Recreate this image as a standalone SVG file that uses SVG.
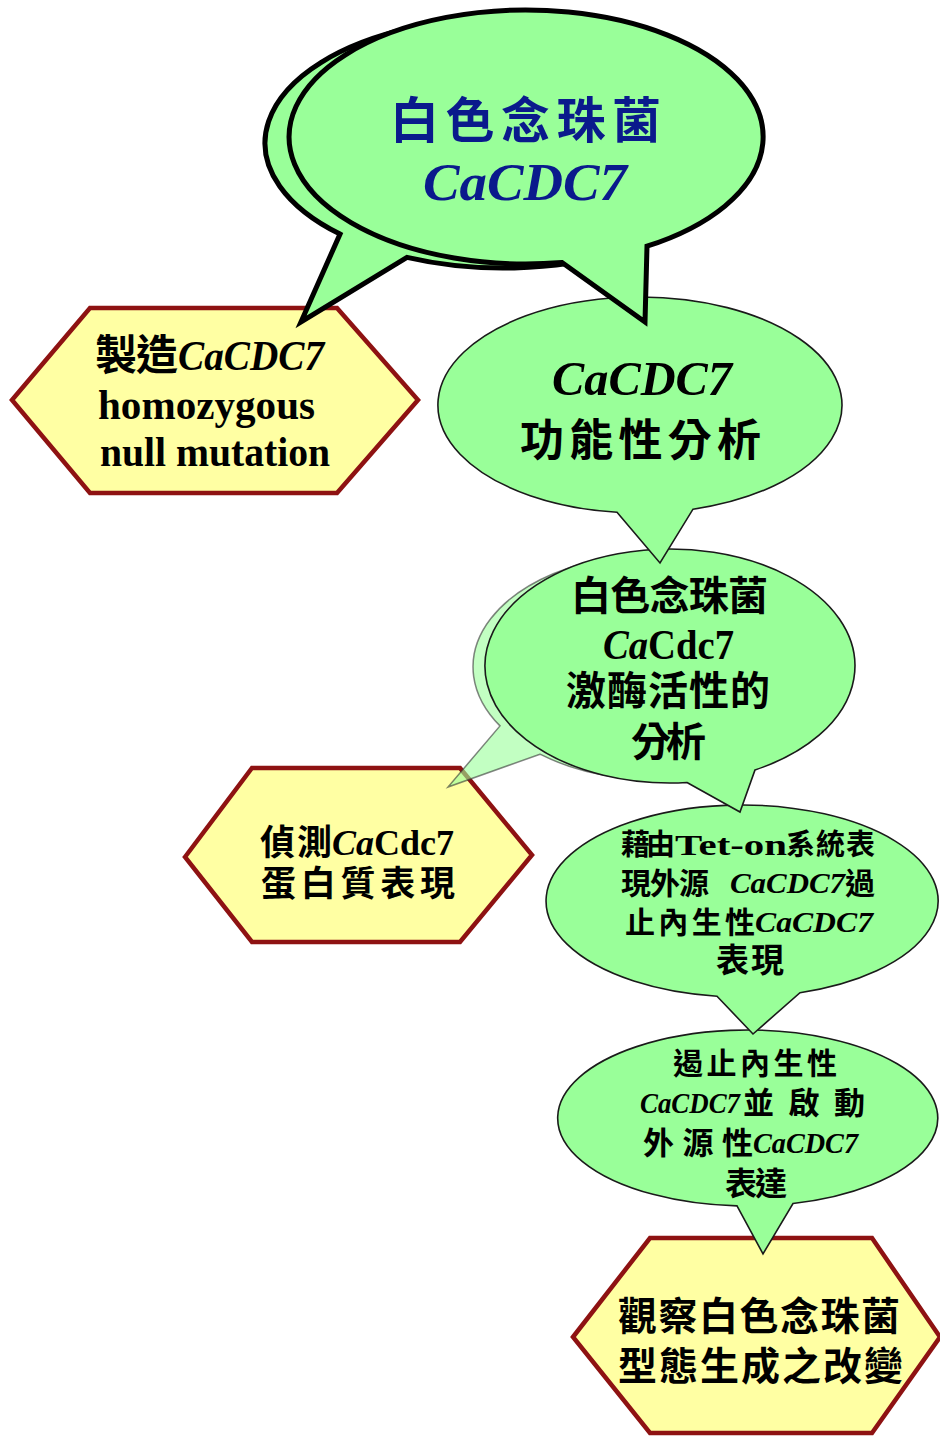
<svg xmlns="http://www.w3.org/2000/svg" width="940" height="1436" viewBox="0 0 940 1436">
<style>
.bg{fill:#ffffff}
.green{fill:#99FF99;stroke:#1a1a1a;stroke-width:1.6;stroke-linejoin:miter}
.big{fill:#99FF99;stroke:#000;stroke-width:5;stroke-linejoin:miter}
.ghost{fill:#99FF99;fill-opacity:0.6;stroke:#333;stroke-opacity:0.6;stroke-width:1.5}
.hex{fill:#FFFFA3;stroke:#8E1212;stroke-width:4.5;stroke-linejoin:miter}
.lat{font-family:"Liberation Serif","Noto Sans CJK TC",serif;font-weight:700;fill:#000}
.cjk{font-family:"Noto Sans CJK TC","Liberation Serif",sans-serif;font-weight:700;fill:#000}
.it{font-style:italic}
.navy{fill:#0A1A8C}
</style>
<rect class="bg" x="0" y="0" width="940" height="1436"/>
<g id="connectors"></g>

<g id="node-observe">
<polygon class="hex" points="573,1337 650,1238 872,1238 940,1337 872,1433 650,1433"/>
<text class="cjk" x="618" y="1330" font-size="39" textLength="282" lengthAdjust="spacing">觀察白色念珠菌</text>
<text class="cjk" x="618" y="1380" font-size="39" textLength="285" lengthAdjust="spacing">型態生成之改變</text>
</g>

<g id="node-shutoff">
<path class="green" d="M 737,1205.9 L 763,1254 L 793,1203.5 A 190 88 0 1 0 737 1205.9 Z"/>
<text class="cjk" x="673" y="1074" font-size="30" textLength="164" lengthAdjust="spacing">遏止內生性</text>
<text class="lat it" x="640" y="1113" font-size="29" textLength="100" lengthAdjust="spacingAndGlyphs">CaCDC7</text>
<text class="cjk" x="743" y="1114" font-size="31" textLength="122" lengthAdjust="spacing">並啟動</text>
<text class="cjk" x="643" y="1154" font-size="31" textLength="110" lengthAdjust="spacing">外源性</text>
<text class="lat it" x="753" y="1153" font-size="29" textLength="105" lengthAdjust="spacingAndGlyphs">CaCDC7</text>
<text class="cjk" x="725" y="1195" font-size="32" textLength="62" lengthAdjust="spacing">表達</text>
</g>

<g id="node-teton">
<path class="green" d="M 717,996.2 L 753,1034 L 800,992.7 A 196 96 0 1 0 717 996.2 Z"/>
<text class="cjk" x="621" y="855" font-size="29" textLength="54" lengthAdjust="spacing">藉由</text>
<text class="lat" x="675" y="855" font-size="29" textLength="112" lengthAdjust="spacingAndGlyphs">Tet-on</text>
<text class="cjk" x="786" y="855" font-size="29" textLength="89" lengthAdjust="spacing">系統表</text>
<text class="cjk" x="621" y="894" font-size="30" textLength="88" lengthAdjust="spacing">現外源</text>
<text class="lat it" x="730" y="893" font-size="29" textLength="115" lengthAdjust="spacingAndGlyphs">CaCDC7</text>
<text class="cjk" x="845" y="894" font-size="30">過</text>
<text class="cjk" x="625" y="933" font-size="30" textLength="130" lengthAdjust="spacing">止內生性</text>
<text class="lat it" x="755" y="932" font-size="29" textLength="118" lengthAdjust="spacingAndGlyphs">CaCDC7</text>
<text class="cjk" x="716" y="972" font-size="33" textLength="68" lengthAdjust="spacing">表現</text>
</g>

<g id="node-detect">
<polygon class="hex" points="185,857 252,768 460,768 532,855 460,942 252,942"/>
<text class="cjk" x="260" y="855" font-size="35" textLength="72" lengthAdjust="spacing">偵測</text>
<text class="lat" x="332" y="855" font-size="36" textLength="122" lengthAdjust="spacingAndGlyphs"><tspan class="it">Ca</tspan>Cdc7</text>
<text class="cjk" x="261" y="896" font-size="35" textLength="194" lengthAdjust="spacing">蛋白質表現</text>
</g>

<g id="node-kinase">
<path class="ghost" d="M 540,754.2 L 448,787 L 500,725.9 A 184 113 0 1 1 540 754.2 Z"/>
<path class="green" d="M 687,782.5 L 740,812 L 755,769.9 A 185 117 0 1 0 687 782.5 Z"/>
<text class="cjk" x="571" y="610" font-size="40" textLength="197" lengthAdjust="spacing">白色念珠菌</text>
<text class="lat" x="603" y="659" font-size="42" textLength="131" lengthAdjust="spacingAndGlyphs"><tspan class="it">Ca</tspan>Cdc7</text>
<text class="cjk" x="566" y="705" font-size="40" textLength="204" lengthAdjust="spacing">激酶活性的</text>
<text class="cjk" x="631" y="756" font-size="40" textLength="75" lengthAdjust="spacing">分析</text>
</g>

<g id="node-function">
<path class="green" d="M 617,512.3 L 660,563 L 693,509.2 A 202 108 0 1 0 617 512.3 Z"/>
<text class="lat it" x="552" y="395" font-size="48" textLength="180" lengthAdjust="spacingAndGlyphs">CaCDC7</text>
<text class="cjk" x="520" y="456" font-size="44" textLength="241" lengthAdjust="spacing">功能性分析</text>
</g>

<g id="node-null">
<polygon class="hex" points="12,400 90,308 337,308 418,400 337,493 90,493"/>
<text class="cjk" x="95" y="370" font-size="42" textLength="83" lengthAdjust="spacing">製造</text>
<text class="lat it" x="178" y="370" font-size="42" textLength="146" lengthAdjust="spacingAndGlyphs">CaCDC7</text>
<text class="lat" x="98" y="419" font-size="42" textLength="217" lengthAdjust="spacingAndGlyphs">homozygous</text>
<text class="lat" x="100" y="466" font-size="42" textLength="230" lengthAdjust="spacingAndGlyphs">null mutation</text>
</g>

<g id="node-title">
<path class="big" d="M 407,257.4 L 301,322 L 340,234.1 A 238 125 0 1 1 407 257.4 Z"/>
<path class="big" d="M 562,262.5 L 645,322 L 647,246.2 A 237 127 0 1 0 562 262.5 Z"/>
<text class="cjk navy" x="390" y="138" font-size="49" textLength="271" lengthAdjust="spacing">白色念珠菌</text>
<text class="lat it navy" x="423" y="200" font-size="53" textLength="204" lengthAdjust="spacingAndGlyphs">CaCDC7</text>
</g>
</svg>
